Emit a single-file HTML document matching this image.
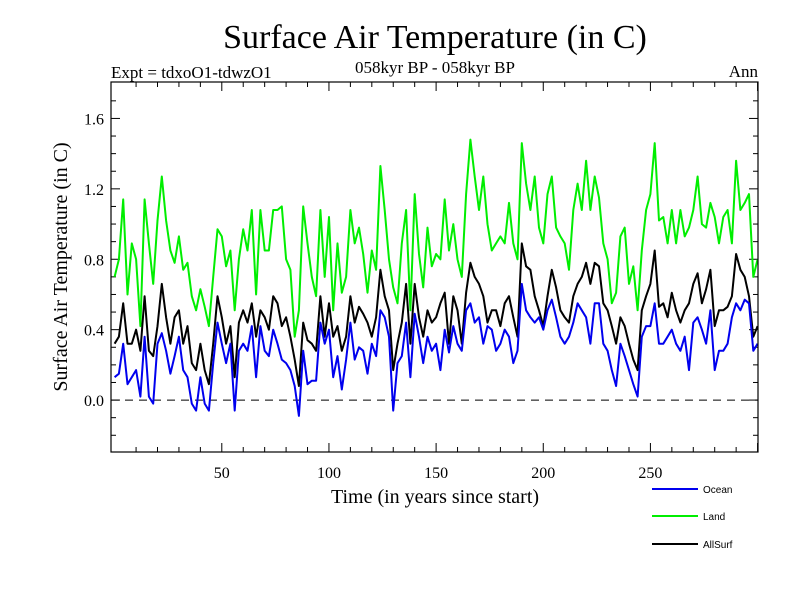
<!DOCTYPE html>
<html><head><meta charset="utf-8"><style>
body{margin:0;background:#fff;}
svg{display:block;font-family:"Liberation Serif",serif;}
</style></head><body>
<svg id="chart" width="800" height="600">
<text x="435" y="48" font-size="34" text-anchor="middle">Surface Air Temperature (in C)</text>
<text x="111" y="78" font-size="17">Expt = tdxoO1-tdwzO1</text>
<text x="435" y="73" font-size="17" text-anchor="middle">058kyr BP - 058kyr BP</text>
<text x="758" y="77" font-size="17" text-anchor="end">Ann</text>
<text x="435" y="503" font-size="20" text-anchor="middle">Time (in years since start)</text>
<text transform="translate(67,267) rotate(-90)" font-size="20" text-anchor="middle">Surface Air Temperature (in C)</text>
<g id="axes"></g>
<g id="series"></g>
<rect x="111" y="82" width="647" height="370" fill="none" stroke="#000" stroke-width="1.2"/>
<g id="legend" font-family="Liberation Sans, sans-serif" font-size="10"></g>
</svg>
<script>
const land = [0.70,0.80,1.14,0.60,0.89,0.80,0.42,1.14,0.89,0.66,1.02,1.27,1.02,0.85,0.78,0.93,0.74,0.78,0.59,0.51,0.63,0.53,0.42,0.70,0.97,0.93,0.76,0.85,0.51,0.80,0.97,0.85,1.08,0.60,1.08,0.85,0.85,1.08,
1.08,1.10,0.80,0.74,0.36,0.51,1.10,0.89,0.70,0.59,1.08,0.70,1.04,0.51,0.89,0.61,0.70,1.08,0.89,0.98,0.83,0.61,0.85,0.74,1.33,1.08,0.80,0.64,0.55,0.89,1.08,0.51,1.17,0.83,0.64,0.98,0.76,
0.83,0.80,1.14,0.85,1.00,0.80,0.70,1.17,1.48,1.27,1.08,1.27,1.00,0.85,0.89,0.93,0.89,1.12,0.89,0.80,1.46,1.23,1.08,1.27,0.98,0.89,1.17,1.27,0.98,0.93,0.89,0.74,1.08,1.23,1.08,1.36,1.08,1.27,
1.15,0.89,0.80,0.55,0.61,0.93,0.98,0.66,0.76,0.51,0.85,1.08,1.17,1.46,1.02,1.04,0.89,1.08,0.89,1.08,0.93,0.98,1.08,1.27,1.00,0.98,1.12,1.04,0.89,1.04,1.08,0.89,1.36,1.08,1.12,1.17,0.70,0.80];
const allsurf = [0.32,0.36,0.55,0.32,0.32,0.40,0.28,0.59,0.28,0.25,0.42,0.66,0.47,0.32,0.47,0.51,0.32,0.42,0.21,0.17,0.32,0.17,0.09,0.32,0.59,0.47,0.32,0.42,0.13,0.44,0.51,0.44,0.55,0.36,0.51,0.47,0.40,0.59,
0.55,0.42,0.47,0.36,0.23,0.08,0.44,0.34,0.32,0.28,0.59,0.36,0.55,0.36,0.42,0.28,0.36,0.59,0.44,0.53,0.49,0.44,0.36,0.47,0.74,0.59,0.51,0.17,0.32,0.44,0.66,0.32,0.66,0.47,0.36,0.51,0.44,
0.47,0.55,0.61,0.32,0.59,0.51,0.32,0.61,0.78,0.70,0.66,0.59,0.44,0.51,0.51,0.42,0.55,0.59,0.47,0.36,0.89,0.76,0.74,0.59,0.51,0.42,0.59,0.74,0.64,0.51,0.47,0.44,0.59,0.66,0.70,0.78,0.66,0.78,
0.76,0.55,0.51,0.42,0.32,0.47,0.42,0.32,0.23,0.17,0.51,0.59,0.66,0.85,0.53,0.55,0.47,0.61,0.51,0.44,0.51,0.55,0.66,0.72,0.55,0.63,0.74,0.42,0.51,0.51,0.53,0.59,0.83,0.74,0.70,0.59,0.36,0.42];
const ocean = [0.13,0.15,0.32,0.09,0.13,0.17,0.02,0.36,0.02,-0.02,0.32,0.38,0.28,0.15,0.25,0.36,0.17,0.13,-0.02,-0.06,0.13,-0.02,-0.06,0.21,0.44,0.32,0.21,0.32,-0.06,0.28,0.32,0.28,0.42,0.13,0.42,0.28,0.25,0.40,
0.32,0.23,0.21,0.17,0.08,-0.09,0.28,0.09,0.11,0.11,0.44,0.32,0.40,0.13,0.25,0.06,0.23,0.44,0.23,0.30,0.28,0.15,0.32,0.25,0.51,0.47,0.36,-0.06,0.21,0.25,0.44,0.13,0.49,0.36,0.21,0.36,0.28,
0.32,0.17,0.40,0.27,0.42,0.32,0.28,0.51,0.55,0.44,0.47,0.32,0.42,0.40,0.28,0.32,0.40,0.36,0.21,0.28,0.66,0.51,0.47,0.44,0.47,0.40,0.51,0.57,0.47,0.36,0.32,0.36,0.44,0.55,0.51,0.47,0.32,0.55,
0.55,0.32,0.28,0.17,0.08,0.32,0.25,0.17,0.09,0.02,0.36,0.42,0.42,0.55,0.32,0.32,0.36,0.40,0.32,0.28,0.36,0.17,0.44,0.47,0.40,0.32,0.51,0.17,0.28,0.28,0.32,0.47,0.55,0.51,0.57,0.55,0.28,0.32];
const yearStep = 2;
const yTicks = [0.0,0.4,0.8,1.2,1.6];
const yTickLabels = ["0.0","0.4","0.8","1.2","1.6"];
const xTicks = [50,100,150,200,250];
const xTickLabels = ["50","100","150","200","250"];

const L=111,R=758,T=82,B=452;
const X0=-1.7,X1=300.2,Y0=-0.295,Y1=1.807;
const xs=v=>L+(v-X0)/(X1-X0)*(R-L);
const ys=v=>B-(v-Y0)/(Y1-Y0)*(B-T);
const NS='http://www.w3.org/2000/svg';
function mk(tag,parent){const e=document.createElementNS(NS,tag);parent.appendChild(e);return e;}
const axes=document.getElementById('axes');
// minor y ticks
for(let v=-0.2;v<=1.75;v+=0.1){
  const y=ys(v);const major=Math.abs(v*10/4-Math.round(v*10/4))<0.01;const len=major?9:5;
  for(const [a,b] of [[L,L+len],[R,R-len]]){
    const t=mk('line',axes);
    
    
    t.setAttribute('x1',a);t.setAttribute('x2',b);t.setAttribute('y1',y);t.setAttribute('y2',y);t.setAttribute('stroke','#000');
  }
}
yTicks.forEach((v,i)=>{
  const t=mk('text',axes);
  
  
  t.setAttribute('x',104);t.setAttribute('y',ys(v)+6);t.setAttribute('text-anchor','end');t.setAttribute('font-size','16');
  t.textContent=yTickLabels[i];
});
for(let v=10;v<=300;v+=10){
  const x=xs(v);const len=(v%50===0)?9:5;
  for(const [a,b] of [[B,B-len],[T,T+len]]){
    const t=mk('line',axes);
    
    
    t.setAttribute('x1',x);t.setAttribute('x2',x);t.setAttribute('y1',a);t.setAttribute('y2',b);t.setAttribute('stroke','#000');
  }
}
xTicks.forEach((v,i)=>{
  const t=mk('text',axes);
  
  
  t.setAttribute('x',xs(v));t.setAttribute('y',478);t.setAttribute('text-anchor','middle');t.setAttribute('font-size','16');
  t.textContent=xTickLabels[i];
});
const zl=mk('line',axes);


zl.setAttribute('x1',L);zl.setAttribute('x2',R);zl.setAttribute('y1',ys(0));zl.setAttribute('y2',ys(0));
zl.setAttribute('stroke','#000');zl.setAttribute('stroke-dasharray','8,6');

const sg=document.getElementById('series');
const series=[[land,'#00ee00','land-line'],[allsurf,'#000000','allsurf-line'],[ocean,'#0000ee','ocean-line']];
series.forEach(([d,c,n])=>{
  const p=mk('polyline',sg);
  
  
  p.setAttribute('points',d.map((v,i)=>xs(i*yearStep).toFixed(1)+','+ys(v).toFixed(1)).join(' '));
  p.setAttribute('fill','none');p.setAttribute('stroke',c);p.setAttribute('stroke-width','2');p.setAttribute('stroke-linejoin','round');
});
const lg=document.getElementById('legend');
[['Ocean','#0000ee',489],['Land','#00ee00',516],['AllSurf','#000000',544]].forEach(([t,c,y])=>{
  const l=mk('line',lg);
  
  
  l.setAttribute('x1',652);l.setAttribute('x2',698);l.setAttribute('y1',y);l.setAttribute('y2',y);l.setAttribute('stroke',c);l.setAttribute('stroke-width','2');
  const tx=mk('text',lg);
  
  
  tx.setAttribute('x',703);tx.setAttribute('y',y+4);tx.textContent=t;
});
</script>
</body></html>
